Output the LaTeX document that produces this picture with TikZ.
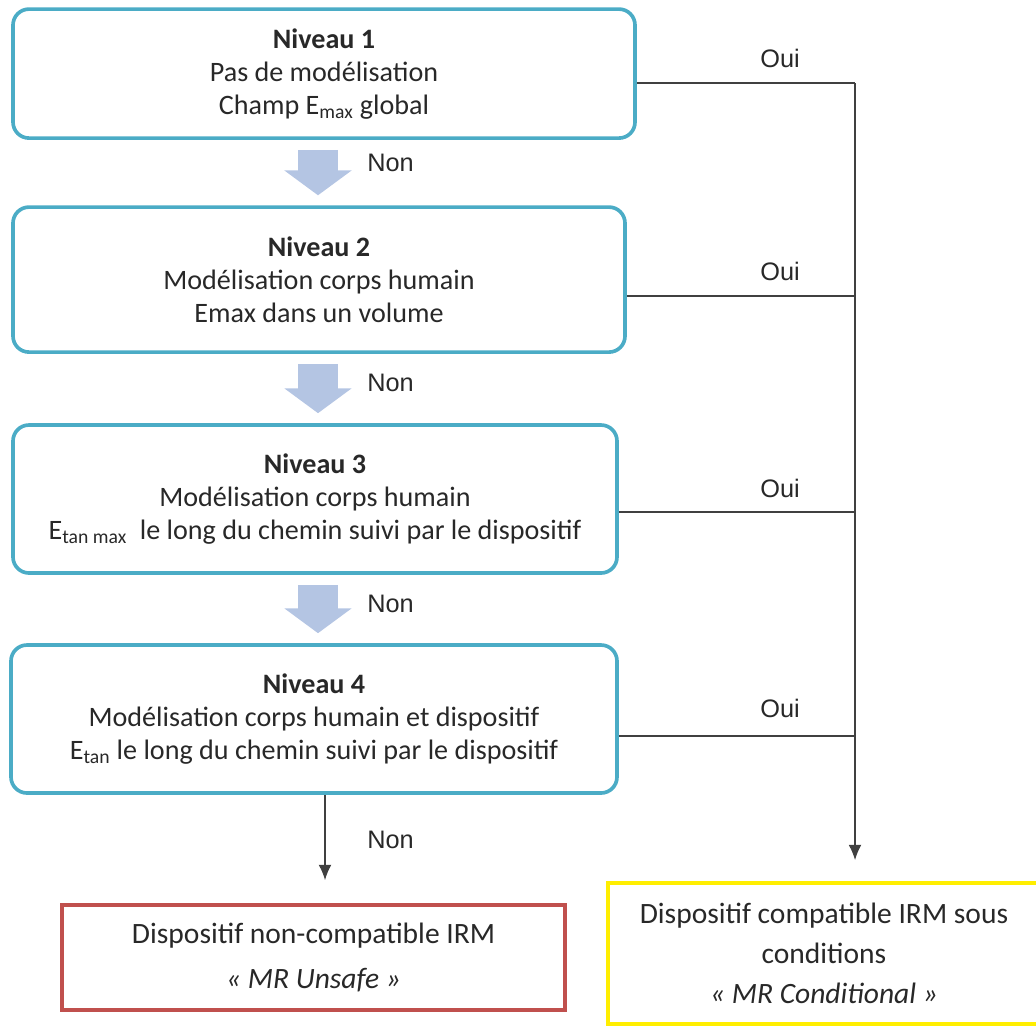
\documentclass[tikz,border=0pt]{standalone}
\usepackage{fontspec}
\setmainfont{Carlito}
\newfontfamily\arialfont{Liberation Sans}
\usepackage{tikz}
\usetikzlibrary{arrows.meta}
\usetikzlibrary{calc}
\usetikzlibrary{positioning}
\definecolor{niveaublue}{RGB}{75,172,198}
\definecolor{flecheblue}{RGB}{180,197,227}
\definecolor{unsafered}{RGB}{192,80,77}
\definecolor{condyellow}{RGB}{255,238,0}
\definecolor{textgray}{RGB}{40,40,40}

\begin{document}
\begin{tikzpicture}
		[> = {Latex[length=3.8mm,width=3.2mm]},
		niveau/.style = {draw=niveaublue, line width=2.6pt, rounded corners=0.4cm, align=center, inner sep=0pt,
			text=textgray, font=\fontsize{20}{23.5}\selectfont},
		verdict/.style = {draw=#1, line width=2.8pt, align=center, inner sep=0pt,
			text=textgray, font=\fontsize{21}{32}\selectfont},
		bigarrow/.style = {draw=flecheblue, line width=1cm, shorten <=0.25cm, shorten >=0.25cm,
			-{Triangle[length=0.62cm,width=1.65cm]}},
		link/.style = {draw=black!75, line width=1.1pt},
		lbl/.style = {text=textgray, font=\arialfont\fontsize{18}{22}\selectfont, inner sep=0pt}
		]
		\useasboundingbox (0,0) rectangle (25.9,-25.65);

		\node[niveau, minimum width=15.55cm, minimum height=3.225cm] (niveau1) at (8.1,-1.84)
			{\textbf{Niveau 1}\\Pas de modélisation\\Champ E\textsubscript{max} global};
		\node[niveau, minimum width=15.3cm, minimum height=3.625cm] (niveau2) at (7.975,-6.99)
			{\textbf{Niveau 2}\\Modélisation corps humain\\Emax dans un volume};
		\node[niveau, minimum width=15.1cm, minimum height=3.7cm] (niveau3) at (7.875,-12.475)
			{\textbf{Niveau 3}\\Modélisation corps humain\\E\textsubscript{tan max}\ \ le long du chemin suivi par le dispositif};
		\node[niveau, minimum width=15.15cm, minimum height=3.7cm] (niveau4) at (7.85,-17.975)
			{\textbf{Niveau 4}\\Modélisation corps humain et dispositif\\E\textsubscript{tan} le long du chemin suivi par le dispositif};

		\node[verdict=unsafered, minimum width=12.575cm, minimum height=2.625cm] (unsafe) at (7.84,-23.94)
			{Dispositif non-compatible IRM\\\textit{« MR Unsafe »}};
		\node[verdict=condyellow, minimum width=10.8cm, minimum height=3.525cm,
			font=\fontsize{21}{28.5}\selectfont] (conditional) at (20.6,-23.84)
			{Dispositif compatible IRM sous\\conditions\\\textit{« MR Conditional »}};

		% Non
		\coordinate (axe) at (7.95,0);
		\draw[bigarrow] (axe |- niveau1.south) -- (axe |- niveau2.north);
		\draw[bigarrow] (axe |- niveau2.south) -- (axe |- niveau3.north);
		\draw[bigarrow] (axe |- niveau3.south) -- (axe |- niveau4.north);
		\node[lbl, anchor=west] (non1) at (9.175,-4.075) {Non};
		\node[lbl, anchor=west] (non2) at (9.175,-9.575) {Non};
		\node[lbl, anchor=west] (non3) at (9.175,-15.1) {Non};

		\coordinate (axe4) at (8.125,0);
		\draw[link, ->, shorten >=0.575cm] (axe4 |- niveau4.south) -- (axe4 |- unsafe.north);
		\node[lbl, anchor=west] (non4) at (9.175,-21) {Non};

		% Oui
		\coordinate (join1) at (21.375,-2.075);
		\coordinate (join2) at (21.375,-7.4);
		\coordinate (join3) at (21.375,-12.8);
		\coordinate (join4) at (21.375,-18.4);
		\draw[link] (niveau1.east |- join1) -- (join1);
		\draw[link] (niveau2.east |- join2) -- (join2);
		\draw[link] (niveau3.east |- join3) -- (join3);
		\draw[link] (niveau4.east |- join4) -- (join4);
		\draw[link, ->, shorten >=0.525cm] (join1) -- (join1 |- conditional.north);
		\node[lbl] (oui1) at (19.5,-1.45) {Oui};
		\node[lbl] (oui2) at (19.5,-6.775) {Oui};
		\node[lbl] (oui3) at (19.5,-12.2) {Oui};
		\node[lbl] (oui4) at (19.5,-17.7) {Oui};
	\end{tikzpicture}
\end{document}
